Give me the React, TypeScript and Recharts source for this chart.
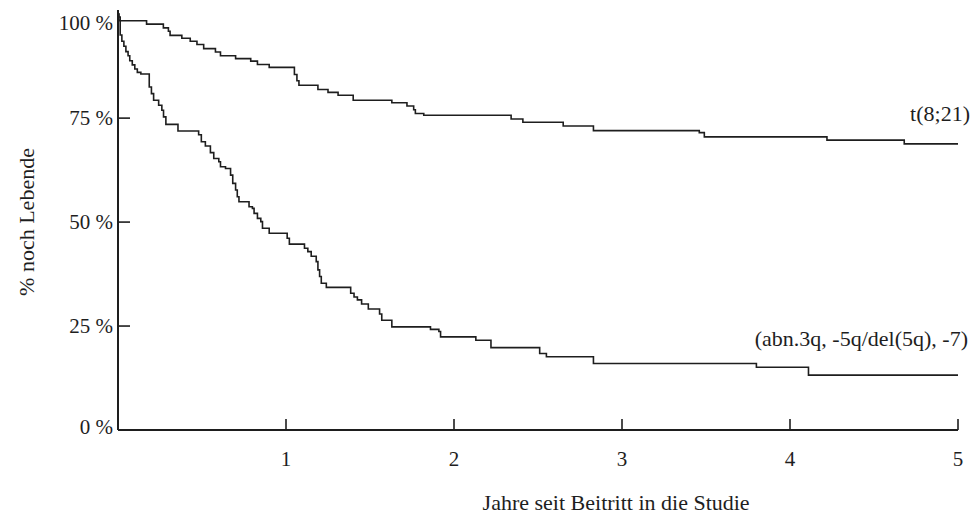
import React from 'react';
import { LineChart, Line, XAxis, YAxis, Label, LabelList } from 'recharts';

// Kaplan-Meier style survival curves
const t821Years = [0, 0.005, 0.013, 0.17, 0.27, 0.3, 0.31, 0.38, 0.43, 0.47, 0.51, 0.58, 0.61, 0.7, 0.79, 0.83, 0.9, 1.05, 1.065, 1.077, 1.19, 1.25, 1.31, 1.4, 1.63, 1.72, 1.76, 1.77, 1.82, 2.34, 2.41, 2.65, 2.83, 3.46, 3.49, 4.22, 4.68, 5.0];
const t821Surv = [100, 99.3, 98.4, 97.6, 96.7, 95.9, 94.9, 94.2, 93.5, 92.7, 91.7, 90.9, 90.0, 89.3, 88.7, 87.9, 87.2, 85.5, 84.0, 82.9, 81.9, 81.2, 80.5, 79.3, 78.7, 77.9, 77.0, 76.1, 75.7, 74.8, 74.0, 73.1, 72.0, 71.5, 70.5, 69.7, 68.8, 68.8];

const abnYears = [0, 0.005, 0.013, 0.023, 0.035, 0.047, 0.06, 0.07, 0.085, 0.1, 0.115, 0.136, 0.186, 0.199, 0.212, 0.242, 0.261, 0.271, 0.285, 0.357, 0.48, 0.496, 0.52, 0.55, 0.57, 0.6, 0.61, 0.64, 0.67, 0.683, 0.7, 0.71, 0.72, 0.78, 0.8, 0.81, 0.83, 0.85, 0.86, 0.9, 1.007, 1.02, 1.11, 1.13, 1.15, 1.18, 1.19, 1.2, 1.21, 1.24, 1.385, 1.405, 1.425, 1.45, 1.49, 1.557, 1.57, 1.63, 1.86, 1.91, 1.92, 2.13, 2.22, 2.51, 2.55, 2.83, 3.8, 4.11, 5.0];
const abnSurv = [100, 98.5, 95.0, 93.5, 92.3, 91.0, 90.0, 88.8, 87.8, 86.8, 86.0, 85.6, 82.5, 80.9, 79.3, 78.1, 76.9, 75.3, 73.5, 71.9, 71.0, 69.3, 68.3, 66.7, 65.3, 64.5, 63.3, 62.9, 61.3, 59.3, 57.7, 56.1, 54.9, 53.7, 53.3, 52.1, 50.9, 50.1, 48.5, 47.3, 46.1, 44.7, 43.7, 42.9, 41.8, 40.5, 38.5, 36.9, 35.3, 34.3, 32.9, 32.0, 31.3, 30.3, 29.1, 27.9, 26.4, 24.8, 24.2, 23.7, 22.4, 21.6, 19.8, 18.4, 17.6, 16.0, 15.1, 13.2, 13.2];

const xTicks = [1, 2, 3, 4, 5];
const yTicks = [0, 25, 50, 75, 100];

const seriesNames = ['t(8;21)', '(abn.3q, -5q/del(5q), -7)'];
const xTitle = 'Jahre seit Beitritt in die Studie';
const yTitle = '% noch Lebende';

const toPoints = (xs: number[], ys: number[]) => xs.map((t, i) => ({ t, s: ys[i] }));
const t821Data = toPoints(t821Years, t821Surv);
const abnData = toPoints(abnYears, abnSurv);

const FONT = '"Liberation Serif", "Times New Roman", serif';
const INK = '#1e1e1e';

const XTick = (props: any) => {
  const { x, y, payload } = props;
  return (
    <g>
      <line x1={x} y1={y} x2={x} y2={y - 11} stroke={INK} strokeWidth={1.6} />
      <text x={x} y={y + 36} textAnchor="middle" fontSize={21} fontFamily={FONT} fill={INK}>
        {payload.value}
      </text>
    </g>
  );
};

const YTick = (props: any) => {
  const { x, y, payload } = props;
  const v = payload.value;
  const off = v === 100 ? 9 : v === 0 ? -3 : 0;
  return (
    <g>
      {v > 0 && v < 100 && <line x1={x} y1={y} x2={x + 12} y2={y} stroke={INK} strokeWidth={1.6} />}
      <text x={x - 5} y={y + 7 + off} textAnchor="end" fontSize={21} fontFamily={FONT} fill={INK}>
        {v} %
      </text>
    </g>
  );
};

const endLabel = (name: string, last: number, dx: number, dy: number) => (props: any) => {
  const { x, y, index } = props;
  if (index !== last) return <g />;
  return (
    <text x={x + dx} y={y + dy} textAnchor="end" fontSize={22} fontFamily={FONT} fill={INK}>
      {name}
    </text>
  );
};

export default function App() {
  return (
    <div style={{ position: 'absolute', left: 0, top: 0, width: 973, height: 515, background: '#fff' }}>
      <LineChart width={973} height={515} margin={{ top: 10, right: 15, bottom: 0, left: 0 }}>
        <XAxis
          dataKey="t"
          type="number"
          domain={[0, 5]}
          ticks={xTicks}
          interval={0}
          tickSize={0}
          tickMargin={0}
          tickLine={false}
          height={85}
          axisLine={{ stroke: INK, strokeWidth: 2 }}
          tick={<XTick />}
        >
          <Label
            content={(p: any) => {
              const vb = p.viewBox;
              return (
                <text x={vb.x + vb.width * 0.593} y={vb.y + 80} textAnchor="middle" fontSize={22} fontFamily={FONT} fill={INK}>
                  {xTitle}
                </text>
              );
            }}
          />
        </XAxis>
        <YAxis
          type="number"
          domain={[0, 101]}
          ticks={yTicks}
          interval={0}
          tickSize={0}
          tickMargin={0}
          tickLine={false}
          width={118}
          axisLine={{ stroke: INK, strokeWidth: 2 }}
          tick={<YTick />}
        >
          <Label
            content={(p: any) => {
              const vb = p.viewBox;
              const cx = vb.x + 26;
              const cy = vb.y + vb.height / 2 + 2;
              return (
                <text x={cx} y={cy} transform={`rotate(-90 ${cx} ${cy})`} textAnchor="middle" dominantBaseline="central" fontSize={22} fontFamily={FONT} fill={INK}>
                  {yTitle}
                </text>
              );
            }}
          />
        </YAxis>
        <Line data={t821Data} dataKey="s" type="stepAfter" stroke={INK} strokeWidth={1.6} dot={false} activeDot={false} isAnimationActive={false}>
          <LabelList dataKey="s" content={endLabel(seriesNames[0], t821Data.length - 1, 12, -23)} />
        </Line>
        <Line data={abnData} dataKey="s" type="stepAfter" stroke={INK} strokeWidth={1.6} dot={false} activeDot={false} isAnimationActive={false}>
          <LabelList dataKey="s" content={endLabel(seriesNames[1], abnData.length - 1, 10, -29)} />
        </Line>
      </LineChart>
    </div>
  );
}
